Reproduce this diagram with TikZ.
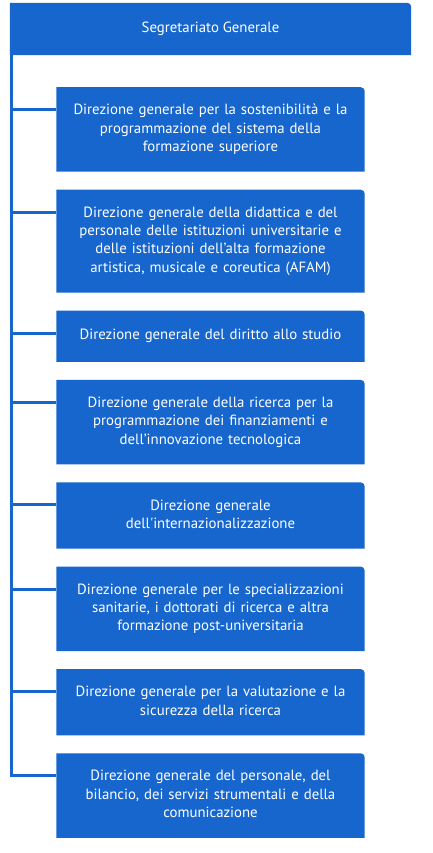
\documentclass[tikz,border=0pt]{standalone}
\usepackage{fontspec}
\setmainfont{PT Sans}
\usepackage{xcolor}
\usetikzlibrary{positioning,calc}
\definecolor{dgblue}{RGB}{22,102,206}
\pgfdeclarelayer{background}
\pgfsetlayers{background,main}

\begin{document}
\begin{tikzpicture}[x=1pt,y=1pt,node distance=18pt,
  office/.style={text=white,font=\fontsize{14.8}{18.3}\selectfont,align=center,
    inner xsep=0pt,inner ysep=14.6pt,execute at begin node=\strut,execute at end node=\strut},
  sgbox/.style={office,minimum width=401pt,minimum height=52pt},
  dgbox/.style={office,minimum width=308pt,minimum height=51pt,text width=300pt},
  link/.style={dgblue,line width=3pt}]
\useasboundingbox (0,0) rectangle (432,-853);
% Segretariato e direzioni generali
\node[sgbox] (sg) at (210.5,-29) {Segretariato Generale};
\node[dgbox,below=32pt of sg] (d1) {Direzione generale per la sostenibilità e la\\programmazione del sistema della\\formazione superiore};
\node[dgbox,below=of d1] (d2) {Direzione generale della didattica e del\\personale delle istituzioni universitarie e\\delle istituzioni dell’alta formazione\\artistica, musicale e coreutica (AFAM)};
\node[dgbox,below=of d2] (d3) {Direzione generale del diritto allo studio};
\node[dgbox,below=of d3] (d4) {Direzione generale della ricerca per la\\programmazione dei finanziamenti e\\dell’innovazione tecnologica};
\node[dgbox,below=of d4] (d5) {Direzione generale\\dell\textquotesingle internazionalizzazione};
\node[dgbox,below=of d5] (d6) {Direzione generale per le specializzazioni\\sanitarie, i dottorati di ricerca e altra\\formazione post-universitaria};
\node[dgbox,below=of d6] (d7) {Direzione generale per la valutazione e la\\sicurezza della ricerca};
\node[dgbox,below=of d7] (d8) {Direzione generale del personale, del\\bilancio, dei servizi strumentali e della\\comunicazione};
\begin{pgfonlayer}{background}
\foreach \n in {sg,d1,d2,d3,d4,d5,d6,d7,d8}
  \fill[dgblue] (\n.south west) |- ([xshift=-4pt]\n.north east) arc[start angle=90,end angle=0,radius=4pt] |- (\n.south west) -- cycle;
\end{pgfonlayer}
% collegamenti
\foreach \n in {d1,d2,d3,d4,d5,d6,d7,d8}
  \draw[link] ([xshift=1.5pt]sg.south west) |- ([yshift=-22.5pt]\n.north west);
\end{tikzpicture}
\end{document}
